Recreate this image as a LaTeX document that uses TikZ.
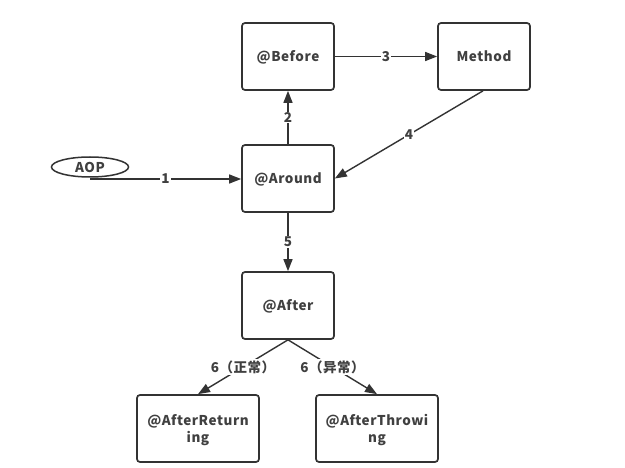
\documentclass[tikz,border=0pt]{standalone}
\usepackage{fontspec}
\setmainfont{Noto Sans CJK SC}[LetterSpace=4]
\usetikzlibrary{shapes.geometric,arrows.meta}
\definecolor{ink}{HTML}{333333}
\definecolor{txt}{HTML}{404040}
\begin{document}
\begin{tikzpicture}[x=1pt,y=-1pt,
  box/.style={draw=ink,line width=1.7pt,rounded corners=3pt,minimum width=92pt,minimum height=67pt,
    font=\fontsize{13.5}{17}\selectfont\bfseries,text=txt,align=center,inner sep=0pt,text depth=0pt},
  wbox/.style={box,minimum width=122pt},
  conn/.style={draw=ink,line width=1.4pt,-{Triangle[length=12pt,width=9pt]}},
  lbl/.style={fill=white,inner sep=1pt,font=\fontsize{13.5}{15}\selectfont\bfseries,text=txt}]
\useasboundingbox (0,0) rectangle (625,468);
\fill[white] (0,0) rectangle (625,468);
\node[box] (before) at (288,56.5) {@Before};
\node[box] (method) at (484,56.5) {Method};
\node[box] (around) at (288,178.5) {@Around};
\node[box] (after) at (288,305.5) {@After};
\node[wbox] (ret) at (198,428.5) {@AfterReturn\\ing};
\node[wbox] (thr) at (377,428.5) {@AfterThrowi\\ng};
\node[ellipse,draw=ink,line width=1.5pt,minimum width=77pt,minimum height=20pt,inner sep=0pt,
  font=\fontsize{13.5}{15}\selectfont\bfseries,text=txt] (aop) at (90,167) {AOP};
\coordinate (aopstart) at (90,179);
\draw[conn] (aopstart) -- node[lbl,pos=0.5]{1} (around.west|-aopstart);
\draw[conn] (around.north) -- node[lbl]{2} (before.south);
\draw[conn] (before.east) -- node[lbl]{3} (method.west);
\draw[conn] ([xshift=-1pt]method.south) -- node[lbl,pos=0.5]{4} (around.east);
\draw[conn] (around.south) -- node[lbl,pos=0.5]{5} (after.south|-after.north);
\draw[conn] (after.south) -- node[lbl,pos=0.5]{6（正常）} (ret.north);
\draw[conn] (after.south) -- node[lbl,pos=0.5]{6（异常）} (thr.north);
\end{tikzpicture}
\end{document}
